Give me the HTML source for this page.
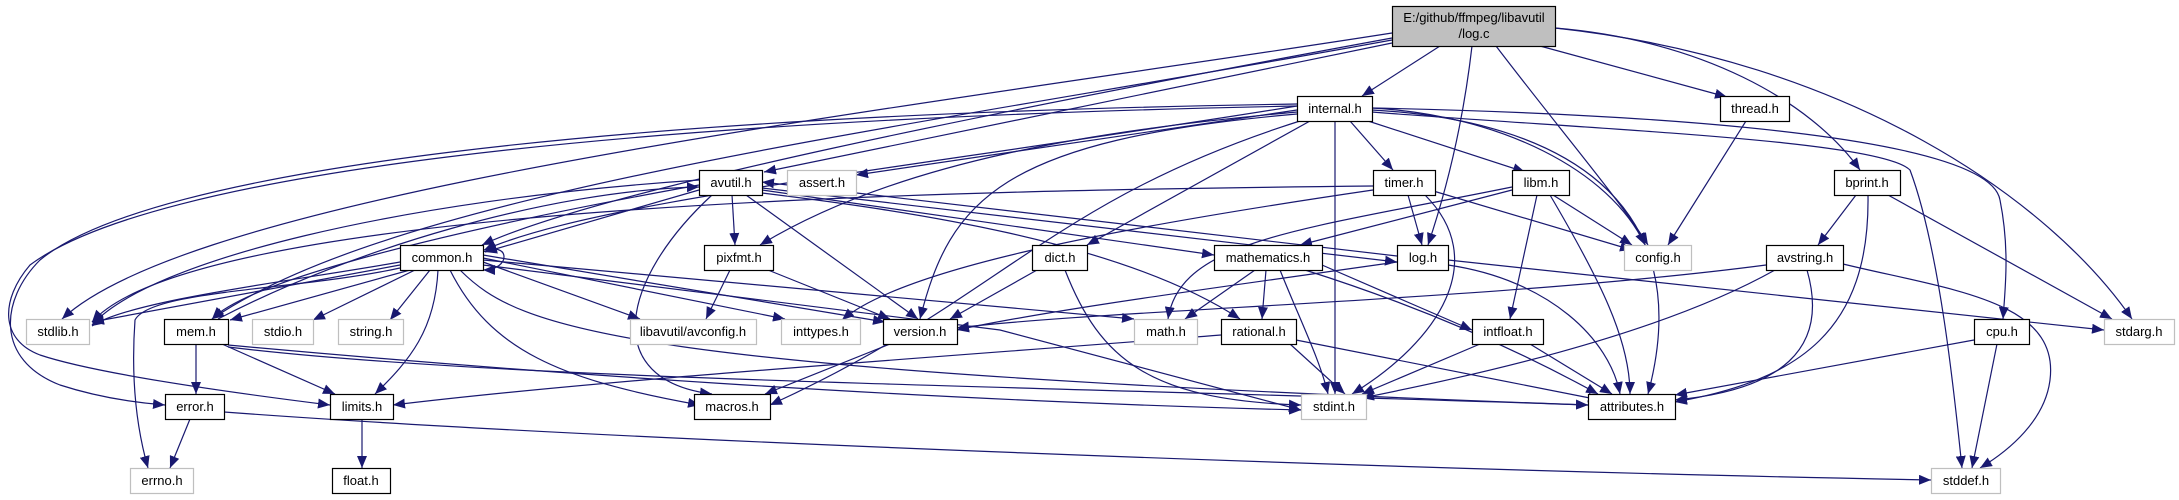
<!DOCTYPE html>
<html><head><meta charset="utf-8"><style>
html,body{margin:0;padding:0;background:#fff}
svg{display:block}
text{font-family:"Liberation Sans",Arial,sans-serif;font-size:13px;fill:#000}
</style></head><body>
<svg width="2179" height="500" viewBox="0 0 2179 500" xmlns="http://www.w3.org/2000/svg">
<defs>
<marker id="a" markerUnits="userSpaceOnUse" markerWidth="12" markerHeight="10" refX="12" refY="5" orient="auto">
<path d="M0,0 L12,5 L0,10 z" fill="#191970"/>
</marker>
</defs>
<rect width="2179" height="500" fill="#fff"/>
<g fill="none" stroke="#191970" stroke-width="1.2" marker-end="url(#a)">
<!-- log.c -->
<path d="M1440,46 L1362,96"/>
<path d="M1392,43 L764,172"/>
<path d="M1392,38 C1000,110 600,190 482,245"/>
<path d="M1472,46 Q1460,150 1428,245"/>
<path d="M1496,46 C1560,130 1620,200 1648,245"/>
<path d="M1540,46 L1727,97"/>
<path d="M1555,28 C1700,40 1810,100 1860,170"/>
<path d="M1555,28 C1850,60 2050,200 2132,319"/>
<path d="M1392,33 C900,110 200,190 62,319"/>
<path d="M1392,40 C900,130 400,190 212,319"/>
<!-- internal.h -->
<path d="M1350,121 L1393,170"/>
<path d="M1368,121 L1525,172"/>
<path d="M1335,121 L1335,394"/>
<path d="M1372,108 C1500,115 1610,170 1645,245"/>
<path d="M1372,110 C1560,120 1700,200 1648,394"/>
<path d="M1372,108 C1700,115 1990,140 2000,200 C2010,250 2005,290 2003,319"/>
<path d="M1372,112 C1600,130 1880,140 1910,170 C1940,250 1955,400 1962,468"/>
<path d="M1297,110 L856,175"/>
<path d="M1297,112 C1100,130 900,160 760,245"/>
<path d="M1297,114 C1000,140 950,200 920,319"/>
<path d="M1300,121 C1050,200 1000,300 770,405"/>
<path d="M1310,121 L1087,245"/>
<path d="M1297,106 C900,170 600,200 484,250"/>
<path d="M1297,104 C600,115 150,170 40,260 C0,300 -5,360 60,385 C100,398 140,403 165,405"/>
<path d="M1297,106 C600,120 150,175 30,265 C0,300 0,340 40,355 C100,375 250,395 330,405"/>
<!-- avutil.h -->
<path d="M699,190 L485,252"/>
<path d="M732,195 L735,245"/>
<path d="M746,195 L918,319"/>
<path d="M712,195 C620,280 600,380 712,394"/>
<path d="M762,188 L1397,262"/>
<path d="M1397,256 L762,182"/>
<path d="M762,190 L1214,255"/>
<path d="M762,193 C900,210 1120,240 1240,319"/>
<path d="M699,185 C450,230 250,280 212,319"/>
<path d="M699,180 C400,200 150,260 92,325"/>
<path d="M218,319 C350,250 550,190 699,187"/>
<!-- common.h -->
<path d="M483,252 C510,240 512,270 483,270"/>
<path d="M400,265 L92,322"/>
<path d="M400,262 C300,280 130,300 92,326"/>
<path d="M410,270 L230,320"/>
<path d="M415,270 L313,320"/>
<path d="M430,270 L390,320"/>
<path d="M438,270 C435,330 410,360 375,394"/>
<path d="M400,268 C300,290 150,290 135,320 C130,390 140,440 148,468"/>
<path d="M450,270 C490,350 560,380 700,405"/>
<path d="M460,270 C520,330 620,370 1588,405"/>
<path d="M483,262 L640,319"/>
<path d="M483,258 L785,319"/>
<path d="M483,255 L885,322"/>
<path d="M483,260 L1134,319"/>
<path d="M483,265 L1000,330 L1301,410"/>
<!-- mem.h -->
<path d="M196,344 L196,394"/>
<path d="M222,344 L335,394"/>
<path d="M228,347 C500,380 1000,385 1588,405"/>
<path d="M228,345 C500,370 900,400 1301,410"/>
<!-- error/limits -->
<path d="M190,419 L170,468"/>
<path d="M224,412 C600,440 1400,470 1931,480"/>
<path d="M362,419 L362,468"/>
<!-- pixfmt -->
<path d="M730,270 L706,319"/>
<path d="M768,270 L890,319"/>
<!-- dict -->
<path d="M1037,270 L950,319"/>
<path d="M1065,270 C1100,360 1150,400 1301,405"/>
<!-- version -->
<path d="M890,344 L765,394"/>
<!-- mathematics -->
<path d="M1255,270 L1185,319"/>
<path d="M1266,270 L1262,319"/>
<path d="M1280,270 C1300,320 1320,360 1328,394"/>
<path d="M1305,270 C1400,300 1500,340 1598,394"/>
<path d="M1322,265 L1472,330"/>
<!-- timer -->
<path d="M1408,195 L1422,245"/>
<path d="M1430,190 L1632,250"/>
<path d="M1425,195 C1490,260 1440,340 1352,394"/>
<path d="M1373,190 C1100,230 900,270 842,320"/>
<path d="M1373,186 C1000,190 200,200 92,322"/>
<!-- libm -->
<path d="M1553,195 L1632,245"/>
<path d="M1550,195 C1600,280 1630,340 1630,394"/>
<path d="M1537,195 L1510,319"/>
<path d="M1512,187 C1300,230 1180,240 1168,319"/>
<path d="M1512,190 L1300,245"/>
<!-- log.h -->
<path d="M1397,262 C1200,290 1050,310 957,330"/>
<path d="M1448,265 C1550,280 1610,340 1620,394"/>
<path d="M1448,260 L2104,330"/>
<!-- rational -->
<path d="M1221,335 C900,360 600,380 393,405"/>
<path d="M1290,344 L1345,394"/>
<path d="M1296,340 L1600,400"/>
<!-- intfloat -->
<path d="M1480,344 L1362,394"/>
<path d="M1530,344 L1612,394"/>
<!-- avstring -->
<path d="M1766,265 C1500,300 1100,310 957,328"/>
<path d="M1775,270 C1650,340 1450,380 1362,398"/>
<path d="M1807,270 C1830,350 1780,390 1675,400"/>
<path d="M1843,264 C1950,290 2060,300 2050,380 C2045,420 2010,450 1980,468"/>
<!-- bprint -->
<path d="M1856,195 L1818,245"/>
<path d="M1888,195 L2112,319"/>
<path d="M1868,195 C1870,330 1800,380 1675,402"/>
<!-- thread -->
<path d="M1746,121 L1668,245"/>
<!-- cpu -->
<path d="M1974,340 L1675,395"/>
<path d="M1997,344 L1972,468"/>
</g>
<g stroke-width="1.2">
<rect x="1392.5" y="6.5" width="163" height="40" fill="#bfbfbf" stroke="#000"/>
<g fill="#fff">
<rect x="1297.5" y="96.5" width="75" height="25" stroke="#000"/>
<rect x="1720.5" y="96.5" width="69" height="25" stroke="#000"/>
<rect x="699.5" y="170.5" width="63" height="25" stroke="#000"/>
<rect x="787.5" y="170.5" width="69" height="25" stroke="#bfbfbf"/>
<rect x="1373.5" y="170.5" width="62" height="25" stroke="#000"/>
<rect x="1512.5" y="170.5" width="57" height="25" stroke="#000"/>
<rect x="1834.5" y="170.5" width="66" height="25" stroke="#000"/>
<rect x="400.5" y="245.5" width="83" height="25" stroke="#000"/>
<rect x="704.5" y="245.5" width="69" height="25" stroke="#000"/>
<rect x="1032.5" y="245.5" width="55" height="25" stroke="#000"/>
<rect x="1214.5" y="245.5" width="108" height="25" stroke="#000"/>
<rect x="1397.5" y="245.5" width="51" height="25" stroke="#000"/>
<rect x="1624.5" y="245.5" width="67" height="25" stroke="#bfbfbf"/>
<rect x="1766.5" y="245.5" width="77" height="25" stroke="#000"/>
<rect x="26.5" y="319.5" width="63" height="25" stroke="#bfbfbf"/>
<rect x="164.5" y="319.5" width="64" height="25" stroke="#000"/>
<rect x="252.5" y="319.5" width="61" height="25" stroke="#bfbfbf"/>
<rect x="338.5" y="319.5" width="65" height="25" stroke="#bfbfbf"/>
<rect x="630.5" y="319.5" width="126" height="25" stroke="#bfbfbf"/>
<rect x="781.5" y="319.5" width="79" height="25" stroke="#bfbfbf"/>
<rect x="883.5" y="319.5" width="74" height="25" stroke="#000"/>
<rect x="1134.5" y="319.5" width="63" height="25" stroke="#bfbfbf"/>
<rect x="1221.5" y="319.5" width="75" height="25" stroke="#000"/>
<rect x="1472.5" y="319.5" width="71" height="25" stroke="#000"/>
<rect x="1974.5" y="319.5" width="55" height="25" stroke="#000"/>
<rect x="2104.5" y="319.5" width="70" height="25" stroke="#bfbfbf"/>
<rect x="165.5" y="394.5" width="59" height="25" stroke="#000"/>
<rect x="330.5" y="394.5" width="63" height="25" stroke="#000"/>
<rect x="694.5" y="394.5" width="76" height="25" stroke="#000"/>
<rect x="1301.5" y="394.5" width="65" height="25" stroke="#bfbfbf"/>
<rect x="1588.5" y="394.5" width="87" height="25" stroke="#000"/>
<rect x="130.5" y="468.5" width="63" height="25" stroke="#bfbfbf"/>
<rect x="332.5" y="468.5" width="58" height="25" stroke="#000"/>
<rect x="1931.5" y="468.5" width="69" height="25" stroke="#bfbfbf"/>
</g>
</g>
<g text-anchor="middle">
<text x="1474" y="22">E:/github/ffmpeg/libavutil</text>
<text x="1474" y="38">/log.c</text>
<text x="1335" y="113">internal.h</text>
<text x="1755" y="113">thread.h</text>
<text x="731" y="187">avutil.h</text>
<text x="822" y="187">assert.h</text>
<text x="1404" y="187">timer.h</text>
<text x="1541" y="187">libm.h</text>
<text x="1867" y="187">bprint.h</text>
<text x="442" y="262">common.h</text>
<text x="739" y="262">pixfmt.h</text>
<text x="1060" y="262">dict.h</text>
<text x="1268" y="262">mathematics.h</text>
<text x="1423" y="262">log.h</text>
<text x="1658" y="262">config.h</text>
<text x="1805" y="262">avstring.h</text>
<text x="58" y="336">stdlib.h</text>
<text x="196" y="336">mem.h</text>
<text x="283" y="336">stdio.h</text>
<text x="371" y="336">string.h</text>
<text x="693" y="336">libavutil/avconfig.h</text>
<text x="821" y="336">inttypes.h</text>
<text x="920" y="336">version.h</text>
<text x="1166" y="336">math.h</text>
<text x="1259" y="336">rational.h</text>
<text x="1508" y="336">intfloat.h</text>
<text x="2002" y="336">cpu.h</text>
<text x="2139" y="336">stdarg.h</text>
<text x="195" y="411">error.h</text>
<text x="362" y="411">limits.h</text>
<text x="732" y="411">macros.h</text>
<text x="1334" y="411">stdint.h</text>
<text x="1632" y="411">attributes.h</text>
<text x="162" y="485">errno.h</text>
<text x="361" y="485">float.h</text>
<text x="1966" y="485">stddef.h</text>
</g>
</svg>
</body></html>
